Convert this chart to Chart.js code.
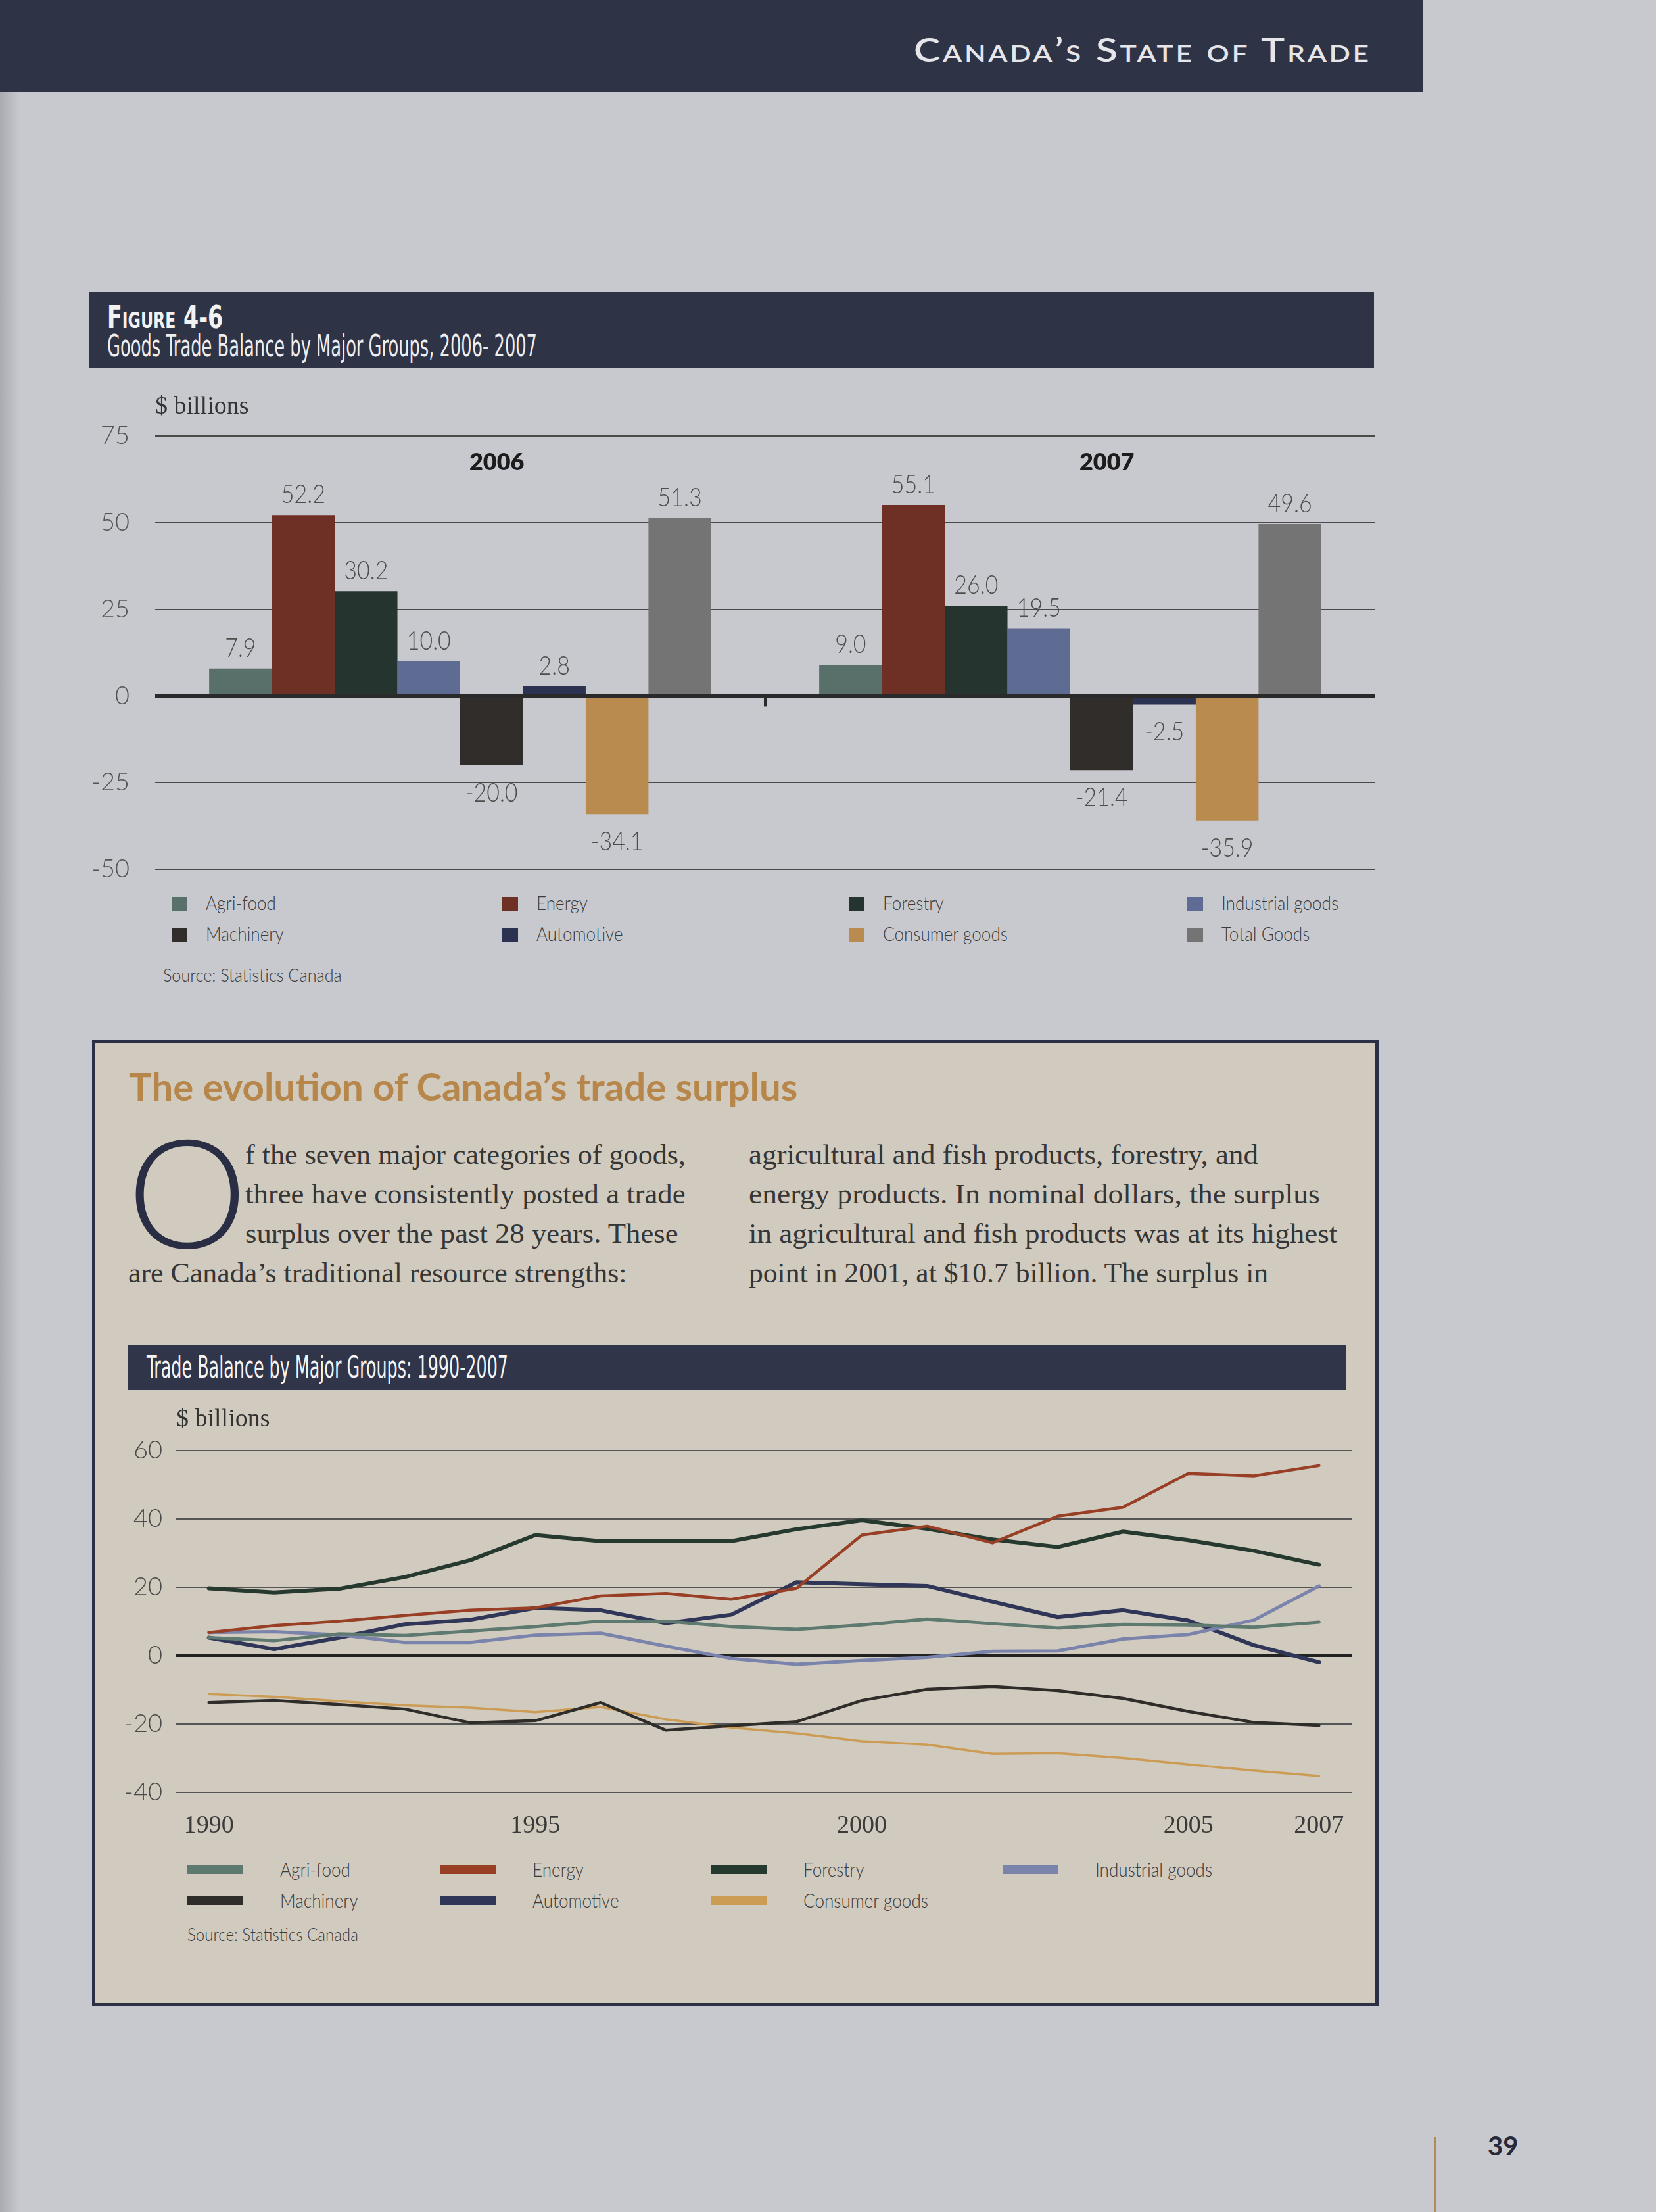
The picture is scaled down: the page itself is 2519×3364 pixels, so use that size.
<!DOCTYPE html>
<html><head><meta charset="utf-8">
<script src="https://cdn.jsdelivr.net/npm/chart.js@4.4.1/dist/chart.umd.min.js"></script>
<style>
html,body{margin:0;padding:0}
body{width:2519px;height:3364px;position:relative;overflow:hidden;background:#c8c9ce;}
.abs{position:absolute}
.t{position:absolute;white-space:nowrap;line-height:1;transform-origin:0 0}
</style></head><body>
<div class="abs" style="left:0;top:0;width:30px;height:3364px;background:linear-gradient(90deg,#a9abb1,#c8c9ce)"></div>
<div class="abs" style="left:0;top:0;width:2165px;height:140px;background:#2f3346"></div>
<div class="abs" style="left:135px;top:444px;width:1955px;height:116px;background:#2f3346"></div>
<div class="abs" style="left:140px;top:1581px;width:1957px;height:1470px;background:#d1cabe;border:5px solid #2c3046;box-sizing:border-box"></div>
<div class="abs" style="left:195px;top:2045px;width:1852px;height:69px;background:#30354a"></div>
<div class="abs" style="left:2181px;top:3250px;width:4px;height:114px;background:#b08a58"></div>
<canvas id="bar" class="abs" width="2060" height="720" style="left:60px;top:630px;width:2060px;height:720px"></canvas>
<canvas id="line" class="abs" width="1950" height="640" style="left:150px;top:2170px;width:1950px;height:640px"></canvas>
<script>
// ---------- DATA ----------
const barCategories = ['2006', '2007'];
const barSeriesNames = ['Agri-food', 'Energy', 'Forestry', 'Industrial goods', 'Machinery', 'Automotive', 'Consumer goods', 'Total Goods'];
const barAgriFood   = [7.9, 9.0];
const barEnergy     = [52.2, 55.1];
const barForestry   = [30.2, 26.0];
const barIndustrial = [10.0, 19.5];
const barMachinery  = [-20.0, -21.4];
const barAutomotive = [2.8, -2.5];
const barConsumer   = [-34.1, -35.9];
const barTotal      = [51.3, 49.6];
const barYTicks = [75, 50, 25, 0, -25, -50];

const years = [1990, 1991, 1992, 1993, 1994, 1995, 1996, 1997, 1998, 1999, 2000, 2001, 2002, 2003, 2004, 2005, 2006, 2007];
const lineSeriesNames = ['Agri-food', 'Energy', 'Forestry', 'Industrial goods', 'Machinery', 'Automotive', 'Consumer goods'];
const lineAgriFood   = [5.3, 4.4, 6.4, 5.9, 7.2, 8.5, 10.1, 10.1, 8.5, 7.7, 9.0, 10.7, 9.4, 8.1, 9.2, 9.0, 8.3, 9.8];
const lineEnergy     = [6.8, 8.8, 10.1, 11.8, 13.3, 14.0, 17.5, 18.2, 16.5, 19.7, 35.3, 37.9, 33.0, 40.8, 43.4, 53.3, 52.6, 55.6];
const lineForestry   = [19.7, 18.5, 19.6, 23.0, 27.9, 35.3, 33.5, 33.5, 33.5, 37.0, 39.6, 37.1, 34.0, 31.8, 36.3, 33.8, 30.7, 26.6];
const lineIndustrial = [6.8, 7.0, 6.1, 3.9, 3.9, 6.0, 6.6, 2.8, -0.8, -2.5, -1.4, -0.5, 1.3, 1.4, 4.9, 6.2, 10.4, 20.4];
const lineMachinery  = [-13.7, -13.1, -14.3, -15.6, -19.6, -19.0, -13.7, -21.8, -20.5, -19.3, -13.1, -9.8, -9.0, -10.2, -12.5, -16.3, -19.5, -20.4];
const lineAutomotive = [5.3, 1.9, 5.3, 9.2, 10.5, 14.0, 13.3, 9.5, 12.0, 21.5, 20.9, 20.4, 15.8, 11.3, 13.3, 10.3, 3.1, -1.9];
const lineConsumer   = [-11.2, -12.0, -13.3, -14.5, -15.2, -16.5, -15.0, -18.6, -21.0, -22.7, -25.0, -26.0, -28.7, -28.5, -29.9, -31.8, -33.6, -35.2];
const lineYTicks = [60, 40, 20, 0, -20, -40];
const lineXTicks = [1990, 1995, 2000, 2005, 2007];

// ---------- STYLE ----------
const barColors = ['#587069', '#6e2f24', '#26342f', '#5e6c93', '#312d2b', '#2c3352', '#b98b4e', '#747474'];
const lineColors = ['#5e7a70', '#983f25', '#26392f', '#7a83ab', '#2f2d2a', '#2f3658', '#cc9c55'];
const lineWidths = [5, 4.5, 6, 5, 4.5, 6, 3.5];

// ---------- TEXT HELPER ----------
function addText(str, x, baseline, font, color, fitW, opts) {
  opts = opts || {};
  const d = document.createElement('div');
  d.className = 't';
  d.style.font = font;
  d.style.color = color;
  if (opts.css) Object.assign(d.style, opts.css);
  d.appendChild(document.createTextNode(str));
  const m = document.createElement('span');
  m.style.cssText = 'display:inline-block;width:0;height:0;vertical-align:baseline';
  d.appendChild(m);
  document.body.appendChild(d);
  const bOff = m.offsetTop;
  const w = d.offsetWidth;
  let s = 1;
  if (fitW) s = fitW / w; else if (opts.scale) s = opts.scale;
  d.style.transform = 'scaleX(' + s + ')';
  const left = opts.alignRight ? x - w * s : x;
  d.style.left = left + 'px';
  d.style.top = (baseline - bOff) + 'px';
  return d;
}
function box(x, y, w, h, color) {
  const d = document.createElement('div');
  d.className = 'abs';
  d.style.cssText += `left:${x}px;top:${y}px;width:${w}px;height:${h}px;background:${color}`;
  document.body.appendChild(d);
}
function noPad(s) { s.paddingTop = 0; s.paddingBottom = 0; s.paddingLeft = 0; s.paddingRight = 0; }

// ---------- PAGE TEXTS ----------
const narrow = '"Liberation Sans Narrow", "DejaVu Sans Condensed", sans-serif';
addText('Canada\u2019s State of Trade', 2086, 94, '600 50px Lato', '#e6e6ea', 696, {alignRight: true, css: {fontVariant: 'small-caps', letterSpacing: '3px'}});
addText('Figure 4-6', 163, 499, 'bold 48px ' + narrow, '#f2f2f2', 176, {css: {fontVariant: 'small-caps'}});
addText('Goods Trade Balance by Major Groups, 2006- 2007', 163, 542, '46px ' + narrow, '#eeeeee', 654);
addText('$ billions', 236, 629, '38px "Liberation Serif", serif', '#333', null);
addText('Source: Statistics Canada', 248, 1493, '300 28px Lato', '#3c3c3c', 272);

addText('The evolution of Canada\u2019s trade surplus', 196, 1674, 'bold 58px Lato', '#b6864a', 1017);
addText('O', 193, 1898, '300 232px Lato', '#2a2e44', null);
const bodyFont = '42px "Liberation Serif", serif';
const bodyCol = '#363636';
addText('f the seven major categories of goods,', 373, 1770, bodyFont, bodyCol, 670);
addText('three have consistently posted a trade', 373, 1830, bodyFont, bodyCol, 670);
addText('surplus over the past 28 years. These', 373, 1890, bodyFont, bodyCol, 659);
addText('are Canada\u2019s traditional resource strengths:', 195, 1950, bodyFont, bodyCol, 758);
addText('agricultural and fish products, forestry, and', 1139, 1770, bodyFont, bodyCol, 775);
addText('energy products. In nominal dollars, the surplus', 1139, 1830, bodyFont, bodyCol, 869);
addText('in agricultural and fish products was at its highest', 1139, 1890, bodyFont, bodyCol, 895);
addText('point in 2001, at $10.7 billion. The surplus in', 1139, 1950, bodyFont, bodyCol, 790);

addText('Trade Balance by Major Groups: 1990-2007', 223, 2095, '46px ' + narrow, '#f4f4f4', 550);
addText('$ billions', 268, 2169, '38px "Liberation Serif", serif', '#333', null);
addText('Source: Statistics Canada', 285, 2952, '300 28px Lato', '#3c3c3c', 260);
addText('39', 2263, 3278, 'bold 40px Lato', '#262a38', null);

// ---------- BAR CHART ----------
const barValues = [barAgriFood, barEnergy, barForestry, barIndustrial, barMachinery, barAutomotive, barConsumer, barTotal];

const barDecor = {
  id: 'barDecor',
  afterDatasetsDraw(chart) {
    const ctx = chart.ctx;
    const ys = chart.scales.y, xs = chart.scales.x;
    const y0 = ys.getPixelForValue(0);
    ctx.save();
    ctx.strokeStyle = '#2a2a2a';
    ctx.lineWidth = 5;
    ctx.beginPath(); ctx.moveTo(chart.chartArea.left, y0); ctx.lineTo(chart.chartArea.right, y0); ctx.stroke();
    const xm = (xs.getPixelForValue(0) + xs.getPixelForValue(1)) / 2;
    ctx.lineWidth = 4;
    ctx.beginPath(); ctx.moveTo(xm, y0); ctx.lineTo(xm, y0 + 16); ctx.stroke();
    ctx.fillStyle = '#4d4d4d';
    ctx.font = '300 40px Lato';
    ctx.textAlign = 'center';
    chart.data.datasets.forEach((ds, i) => {
      chart.getDatasetMeta(i).data.forEach((el, j) => {
        const v = ds.data[j];
        ctx.save();
        if (v >= 0) { ctx.textBaseline = 'alphabetic'; ctx.translate(el.x, el.y - 18); }
        else { ctx.textBaseline = 'top'; ctx.translate(el.x, el.y + 22); }
        ctx.scale(0.85, 1);
        ctx.fillText(v.toFixed(1), 0, 0);
        ctx.restore();
      });
    });
    ctx.font = '800 36px Lato';
    ctx.fillStyle = '#1c1c1c';
    ctx.textBaseline = 'alphabetic';
    const m = chart.getDatasetMeta(4).data;
    chart.data.labels.forEach((lab, j) => {
      ctx.fillText(lab, m[j].x + 8, ys.getPixelForValue(ys.max) + 52);
    });
    ctx.restore();
  }
};

const barChart = new Chart(document.getElementById('bar'), {
  type: 'bar',
  data: {
    labels: barCategories,
    datasets: barSeriesNames.map((n, i) => ({
      label: n, data: barValues[i], backgroundColor: barColors[i], borderWidth: 0,
      categoryPercentage: 0.823, barPercentage: 1
    }))
  },
  options: {
    responsive: false, animation: false, devicePixelRatio: 1,
    layout: {padding: {top: 33, right: 28, bottom: 28, left: 0}},
    plugins: {legend: {display: false}, tooltip: {enabled: false}},
    scales: {
      x: {display: false, offset: true},
      y: {
        min: -50, max: 75,
        afterBuildTicks: s => { s.ticks = barYTicks.map(v => ({value: v})); },
        afterFit: s => { s.width = 176; noPad(s); },
        border: {display: false},
        grid: {color: '#4a4a4a', lineWidth: 2, drawTicks: false},
        ticks: {padding: 39, color: '#555', font: {family: 'Lato', weight: 300, size: 38, lineHeight: 0.05}}
      }
    }
  },
  plugins: [barDecor]
});

// bar legend (from chart datasets)
const barLegCols = [261, 764, 1291, 1806];
const barLegRows = [1384, 1431];
barChart.data.datasets.forEach((ds, i) => {
  const c = i % 4, r = Math.floor(i / 4);
  box(barLegCols[c], barLegRows[r] - 20, 24, 21, ds.backgroundColor);
  addText(ds.label, barLegCols[c] + 52, barLegRows[r], '300 30px Lato', '#3c3c3c', null, {scale: 0.87});
});

// ---------- LINE CHART ----------
const lineValues = [lineAgriFood, lineEnergy, lineForestry, lineIndustrial, lineMachinery, lineAutomotive, lineConsumer];
const lineChart = new Chart(document.getElementById('line'), {
  type: 'line',
  data: {
    datasets: lineSeriesNames.map((n, i) => ({
      label: n,
      data: years.map((yr, j) => ({x: yr, y: lineValues[i][j]})),
      borderColor: lineColors[i], backgroundColor: lineColors[i], borderWidth: lineWidths[i],
      pointRadius: 0, tension: 0, fill: false, borderJoinStyle: 'round', borderCapStyle: 'round'
    }))
  },
  options: {
    responsive: false, animation: false, devicePixelRatio: 1,
    layout: {padding: {top: 36, right: 44, bottom: 0, left: 0}},
    plugins: {legend: {display: false}, tooltip: {enabled: false}},
    scales: {
      x: {
        type: 'linear', min: 1989.5, max: 2007.5,
        afterBuildTicks: s => { s.ticks = lineXTicks.map(v => ({value: v})); },
        afterFit: s => { s.height = 84; noPad(s); },
        border: {display: false},
        grid: {display: false, drawTicks: false},
        ticks: {padding: 28, color: '#3a3a3a', font: {family: 'Liberation Serif', size: 38}, callback: v => String(v), maxRotation: 0, autoSkip: false}
      },
      y: {
        min: -40, max: 60,
        afterBuildTicks: s => { s.ticks = lineYTicks.map(v => ({value: v})); },
        afterFit: s => { s.width = 118; noPad(s); },
        border: {display: false},
        grid: {color: c => c.tick.value === 0 ? '#222' : '#555', lineWidth: c => c.tick.value === 0 ? 4 : 2, drawTicks: false},
        ticks: {padding: 21, color: '#4a4a4a', font: {family: 'Lato', weight: 300, size: 38, lineHeight: 0.05}}
      }
    }
  }
});

// line legend (from chart datasets)
const lineLegCols = [285, 669, 1081, 1525];
const lineLegRows = [2854, 2901];
lineChart.data.datasets.forEach((ds, i) => {
  const c = i % 4, r = Math.floor(i / 4);
  box(lineLegCols[c], lineLegRows[r] - 18, 85, 14, ds.borderColor);
  addText(ds.label, lineLegCols[c] + 141, lineLegRows[r], '300 30px Lato', '#3c3c3c', null, {scale: 0.87});
});
</script>
</body></html>
